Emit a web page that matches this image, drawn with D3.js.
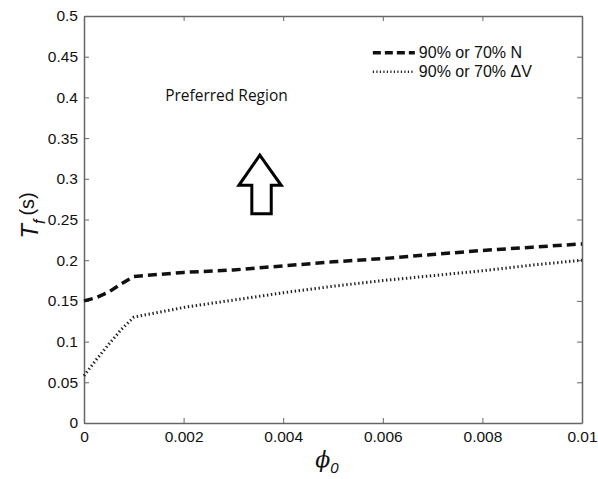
<!DOCTYPE html>
<html>
<head>
<meta charset="utf-8">
<script src="https://cdn.jsdelivr.net/npm/d3@7"></script>
<style>
body { margin: 0; background: #fff; }
.axis text { font-family: "Liberation Sans", Arial, sans-serif; font-size: 15.5px; fill: #111; }
.axis path, .axis line { stroke: #666; }
</style>
</head>
<body>
<div id="chart"></div>
<script>
const svgWidth = 598;
const svgHeight = 479;
const margin = {top: 16, right: 16, bottom: 56, left: 84};
const width = svgWidth - margin.left - margin.right;
const height = svgHeight - margin.top - margin.bottom;

const phi0 = [0, 0.00025, 0.0005, 0.00075, 0.001, 0.002, 0.003, 0.004, 0.005, 0.006, 0.007, 0.008, 0.009, 0.01];
const tfN = [0.150, 0.154, 0.161, 0.171, 0.180, 0.185, 0.188, 0.193, 0.198, 0.202, 0.207, 0.212, 0.216, 0.220];
const tfDV = [0.058, 0.078, 0.097, 0.115, 0.130, 0.142, 0.151, 0.160, 0.168, 0.175, 0.181, 0.187, 0.194, 0.200];
const xTicks = [0, 0.002, 0.004, 0.006, 0.008, 0.01];
const yTicks = [0, 0.05, 0.1, 0.15, 0.2, 0.25, 0.3, 0.35, 0.4, 0.45, 0.5];
const legendLabels = ["90% or 70% N", "90% or 70% \u0394V"];

document.addEventListener("DOMContentLoaded", function(){
    drawChart();
});

function drawChart(){
    const svg = d3.select("#chart")
        .append("svg")
        .attr("width", svgWidth)
        .attr("height", svgHeight)
        .append("g")
        .attr("transform", "translate(" + margin.left + "," + margin.top + ")");

    const xscale = d3.scaleLinear().domain([0, 0.01]).range([0, width]);
    const yscale = d3.scaleLinear().domain([0, 0.5]).range([height, 0]);

    const fmt = function(d){ return String(+d.toFixed(4)); };

    // bottom + left with labels, top + right as mirrored ticks (matlab box)
    svg.append("g").attr("class", "axis")
        .attr("transform", "translate(0," + height + ")")
        .call(d3.axisBottom(xscale).tickValues(xTicks).tickFormat(fmt).tickSizeInner(-5).tickSizeOuter(0).tickPadding(8));
    svg.append("g").attr("class", "axis")
        .call(d3.axisLeft(yscale).tickValues(yTicks).tickFormat(fmt).tickSizeInner(-5).tickSizeOuter(0).tickPadding(6));
    svg.append("g").attr("class", "axis")
        .call(d3.axisTop(xscale).tickValues(xTicks).tickFormat("").tickSizeInner(-5).tickSizeOuter(0));
    svg.append("g").attr("class", "axis")
        .attr("transform", "translate(" + width + ",0)")
        .call(d3.axisRight(yscale).tickValues(yTicks).tickFormat("").tickSizeInner(-5).tickSizeOuter(0));

    svg.selectAll(".axis path").attr("stroke-width", 1.5);

    const line = d3.line()
        .x(function(d){ return xscale(d[0]); })
        .y(function(d){ return yscale(d[1]); });

    svg.append("path")
        .datum(d3.zip(phi0, tfN))
        .attr("fill", "none")
        .attr("stroke", "#111")
        .attr("stroke-width", 3.5)
        .attr("stroke-dasharray", "9,5")
        .attr("d", line);

    svg.append("path")
        .datum(d3.zip(phi0, tfDV))
        .attr("fill", "none")
        .attr("stroke", "#222")
        .attr("stroke-width", 3)
        .attr("stroke-dasharray", "1.4,2.6")
        .attr("d", line);

    // legend
    const leg = svg.append("g").attr("transform", "translate(" + (xscale(0.0058)) + "," + yscale(0.455) + ")");
    leg.append("line").attr("x1", 0).attr("x2", 42).attr("y1", 0).attr("y2", 0)
        .attr("stroke", "#111").attr("stroke-width", 3.5).attr("stroke-dasharray", "8,4");
    leg.append("line").attr("x1", 0).attr("x2", 42).attr("y1", 19).attr("y2", 19)
        .attr("stroke", "#222").attr("stroke-width", 2.5).attr("stroke-dasharray", "1.2,2.3");
    leg.selectAll("text.lg")
        .data(legendLabels)
        .enter().append("text")
        .attr("x", 46)
        .attr("y", function(d, i){ return i * 19 + 5.5; })
        .attr("font-family", "Liberation Sans, Arial, sans-serif")
        .attr("font-size", 16)
        .attr("fill", "#111")
        .text(function(d){ return d; });

    // annotation
    svg.append("text")
        .attr("x", xscale(0.00163))
        .attr("y", yscale(0.395))
        .attr("font-family", "Open Sans, sans-serif")
        .attr("font-size", 15.5)
        .attr("fill", "#111")
        .text("Preferred Region");

    // up arrow (in data units)
    const arrow = [[0.00353, 0.329], [0.00396, 0.292], [0.00376, 0.292], [0.00376, 0.257],
                   [0.00337, 0.257], [0.00337, 0.292], [0.00311, 0.292]];
    svg.append("path")
        .datum(arrow)
        .attr("d", function(d){ return line(d) + "Z"; })
        .attr("fill", "#fff")
        .attr("stroke", "#000")
        .attr("stroke-width", 3)
        .attr("stroke-linejoin", "miter");

    // axis labels
    const ylab = svg.append("text")
        .attr("transform", "translate(-46," + (height / 2 - 4) + ")rotate(-90)")
        .attr("text-anchor", "middle")
        .attr("font-family", "Liberation Sans, Arial, sans-serif")
        .attr("fill", "#111");
    ylab.append("tspan").attr("font-style", "italic").attr("font-size", 24).text("T");
    ylab.append("tspan").attr("font-style", "italic").attr("font-size", 16).attr("dy", 7).text("f");
    ylab.append("tspan").attr("font-size", 20).attr("dy", -11).attr("dx", 4).text("(s)");

    const xlab = svg.append("text")
        .attr("x", width / 2 - 6)
        .attr("y", height + 44)
        .attr("text-anchor", "middle")
        .attr("font-family", "DejaVu Serif, serif")
        .attr("fill", "#111");
    xlab.append("tspan").attr("font-style", "italic").attr("font-size", 22).text("\u03d5");
    xlab.append("tspan").attr("font-style", "italic").attr("font-size", 15)
        .attr("font-family", "Liberation Sans, Arial, sans-serif").attr("dy", 6).text("0");
}
</script>
</body>
</html>
